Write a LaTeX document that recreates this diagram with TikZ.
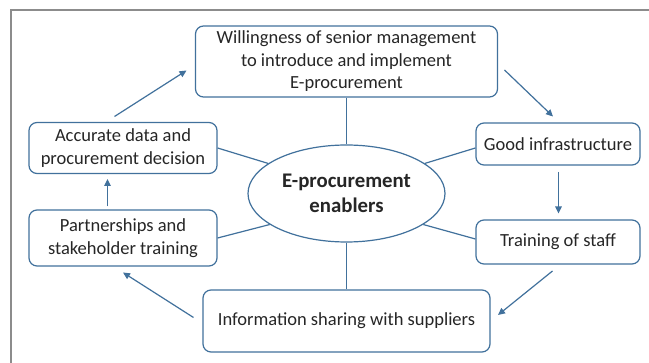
\documentclass[tikz,border=0pt]{standalone}
\usepackage{fontspec}
\setmainfont{Carlito}
\usetikzlibrary{shapes.geometric,arrows.meta}
\definecolor{edge}{RGB}{65,113,156}
\definecolor{ink}{RGB}{38,38,38}
\definecolor{framegray}{RGB}{140,140,140}
\tikzset{
  box/.style={draw=edge, line width=1.2pt, rounded corners=8pt, align=center,
    text=ink, inner sep=0pt, font=\fontsize{18.5}{22.5}\selectfont},
  hub/.style={ellipse, draw=edge, line width=1.2pt, inner sep=0pt,
    minimum width=197pt, minimum height=97pt, align=center, text=ink,
    font=\bfseries\fontsize{20.8}{25}\selectfont},
  spoke/.style={draw=edge, line width=1.2pt},
  flow/.style={draw=edge, line width=1.2pt, -{Triangle[length=7pt,width=6.5pt]}},
}
\begin{document}
\begin{tikzpicture}[x=1pt,y=-1pt]
\useasboundingbox (0,0) rectangle (649,363);
\fill[white] (0,0) rectangle (649,363);
% outer frame (open to the right and bottom)
\draw[framegray, line width=2pt] (10.5,364) -- (10.5,10.5) -- (650,10.5);

% boxes
\node[box, minimum width=302pt, minimum height=71pt] (will) at (346.5,61.5)
  {Willingness of senior management\\to introduce and implement\\E-procurement};
\node[box, minimum width=188pt, minimum height=51pt] (acc) at (123,148)
  {Accurate data and\\procurement decision};
\node[box, minimum width=188pt, minimum height=56pt] (part) at (123,238)
  {Partnerships and\\stakeholder training};
\node[box, minimum width=164pt, minimum height=42pt] (good) at (558,144)
  {Good infrastructure};
\node[box, minimum width=164pt, minimum height=44pt] (train) at (558,242)
  {Training of staff};
\node[box, minimum width=287pt, minimum height=62pt] (info) at (346.5,321)
  {Information sharing with suppliers};
\node[hub] (hub) at (346.5,193.5) {E-procurement\\enablers};

% spokes to the hub
\draw[spoke] (will.south) -- (hub.north);
\draw[spoke] (hub.south) -- (info.north);
\draw[spoke] (acc.east) -- (hub.159);
\draw[spoke] (part.east) -- (hub.202);
\draw[spoke] ([yshift=-4pt]good.west) -- (hub.21);
\draw[spoke] ([yshift=3pt]train.west) -- (hub.338);

% cycle arrows
\coordinate (c1s) at (114.5,116.5); \coordinate (c1e) at (186.5,70.5);
\coordinate (c2s) at (504.5,70);    \coordinate (c2e) at (553,116.5);
\coordinate (c3s) at (558.5,172);   \coordinate (c3e) at (558.5,213.5);
\coordinate (c4s) at (552.5,271);   \coordinate (c4e) at (498,315);
\coordinate (c5s) at (193.5,317.5); \coordinate (c5e) at (123,272.5);
\coordinate (c6s) at (107.5,206.5); \coordinate (c6e) at (107.5,179);
\draw[flow] (c1s) -- (c1e);
\draw[flow] (c2s) -- (c2e);
\draw[flow] (c3s) -- (c3e);
\draw[flow] (c4s) -- (c4e);
\draw[flow] (c5s) -- (c5e);
\draw[flow] (c6s) -- (c6e);
\end{tikzpicture}
\end{document}
